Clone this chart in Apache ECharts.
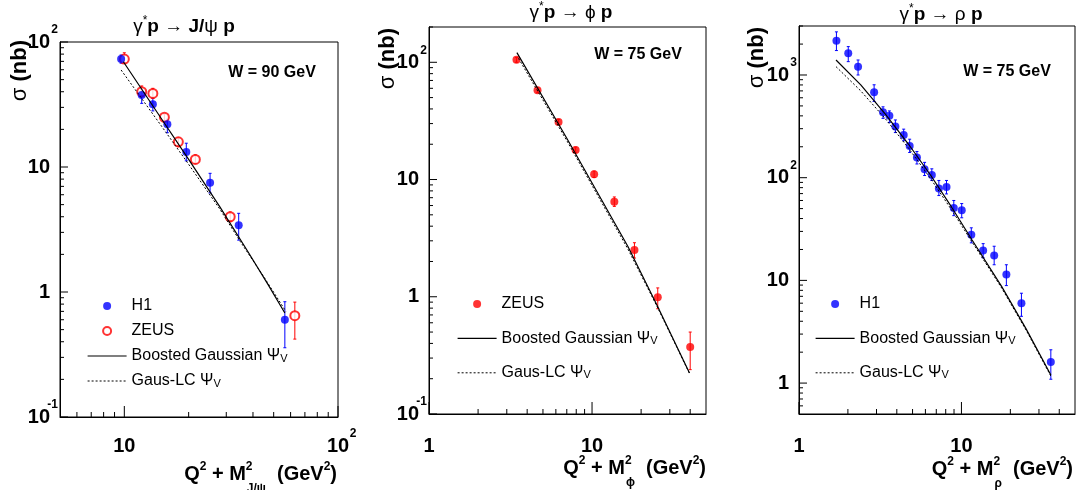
<!DOCTYPE html>
<html><head><meta charset="utf-8">
<script src="https://cdn.jsdelivr.net/npm/echarts@6.0.0/dist/echarts.min.js"></script>
<style>html,body{margin:0;padding:0;background:#fff}#c{width:1079px;height:490px}</style>
</head><body><div id="c"></div>
<script>
// ---------------- data ----------------
// Panel 1: gamma* p -> J/psi p, W = 90 GeV
const jpsiH1X  = [9.66, 12.06, 13.6, 15.9, 19.5, 25.2, 34.3, 56.4];
const jpsiH1Y  = [73, 37.7, 31.7, 22.0, 13.2, 7.49, 3.42, 0.60];
const jpsiH1Lo = [67.7, 32.3, 28.1, 18.8, 11.2, 6.2, 2.6, 0.358];
const jpsiH1Hi = [78.7, 41.9, 35.5, 24.1, 15.5, 8.9, 4.26, 0.836];
const jpsiZeusX  = [10.0, 12.06, 13.6, 15.4, 17.9, 21.5, 31.3, 62.8];
const jpsiZeusY  = [73, 40, 38.8, 25.0, 15.9, 11.5, 4.0, 0.646];
const jpsiZeusLo = [67.7, 36.5, 35.5, 23, 14.5, 10.7, 3.65, 0.42];
const jpsiZeusHi = [82, 44.5, 42.6, 26.5, 17.1, 12.5, 4.37, 0.83];
const jpsiBGX = [9.9, 15, 20, 28, 37.9, 47, 56.4];
const jpsiBGY = [69.5, 24.0, 11.5, 4.8, 2.1, 1.15, 0.68];
const jpsiGLX = [9.66, 15, 20, 28, 34.8, 45, 57];
const jpsiGLY = [59.7, 21.0, 10.5, 4.6, 2.55, 1.32, 0.70];

// Panel 2: gamma* p -> phi p, W = 75 GeV
const phiZeusX  = [3.44, 4.63, 6.23, 7.93, 10.3, 13.7, 18.2, 25.3, 40.0];
const phiZeusY  = [105, 57.8, 31.0, 17.9, 11.1, 6.47, 2.51, 0.99, 0.373];
const phiZeusLo = [100, 55, 29.5, 16.9, 10.4, 5.9, 2.14, 0.79, 0.239];
const phiZeusHi = [110, 60.7, 32.6, 18.9, 11.8, 7.1, 2.89, 1.19, 0.50];
const phiBGX = [3.46, 7, 16.6, 25, 39.6];
const phiBGY = [121, 22.5, 2.68, 0.85, 0.224];
const phiGLX = [3.54, 7, 16.6, 25, 39.6];
const phiGLY = [108, 21.5, 2.55, 0.83, 0.222];

// Panel 3: gamma* p -> rho p, W = 75 GeV
const rhoH1X  = [1.70, 2.01, 2.31, 2.90, 3.29, 3.60, 3.92, 4.41, 4.80, 5.32, 5.93, 6.57, 7.26, 8.09, 8.97, 10.04, 11.5, 13.6, 15.9, 18.9, 23.4, 35.5];
const rhoH1Y  = [2150, 1630, 1205, 678, 433, 401, 316, 261, 204, 157, 121, 106, 78.7, 81, 50.6, 48.1, 27.8, 19.6, 17.5, 11.4, 6.0, 1.60];
const rhoH1Lo = [1730, 1349, 1000, 553, 378, 345, 275, 229, 176, 136, 105, 94, 67, 69.5, 42.7, 40.7, 23.2, 16.6, 14.2, 8.9, 4.47, 1.09];
const rhoH1Hi = [2630, 1890, 1400, 803, 490, 447, 365, 297, 237, 180, 141, 122, 94, 94, 60, 56, 32.5, 22.8, 21.5, 14.2, 7.5, 2.11];
const rhoBGX = [1.69, 2.4, 3.40, 4.7, 6.4, 8.7, 11.6, 17.7, 25, 35.5];
const rhoBGY = [1400, 800, 416, 214, 108, 51.6, 24.9, 8.7, 3.37, 1.2];
const rhoGLX = [1.69, 2.4, 3.40, 4.7, 6.4, 8.7, 11.6, 17.7, 25, 35.5];
const rhoGLY = [1206, 700, 375, 196, 100, 48.5, 23.8, 8.4, 3.28, 1.17];

// ---------------- axis ticks / labels ----------------
const jpsiXMajor = [10, 100];           const jpsiXLabels = ['10', '10^2'];
const jpsiXMinor = [6, 7, 8, 9, 20, 30, 40, 50, 60, 70, 80, 90];
const jpsiYMajor = [0.1, 1, 10, 100];   const jpsiYLabels = ['10^-1', '1', '10', '10^2'];
const jpsiYMinor = [0.2, 0.3, 0.4, 0.5, 0.6, 0.7, 0.8, 0.9, 2, 3, 4, 5, 6, 7, 8, 9, 20, 30, 40, 50, 60, 70, 80, 90];
const phiXMajor = [1, 10];              const phiXLabels = ['1', '10'];
const phiXMinor = [2, 3, 4, 5, 6, 7, 8, 9, 20, 30, 40];
const phiYMajor = [0.1, 1, 10, 100];    const phiYLabels = ['10^-1', '1', '10', '10^2'];
const phiYMinor = [0.2, 0.3, 0.4, 0.5, 0.6, 0.7, 0.8, 0.9, 2, 3, 4, 5, 6, 7, 8, 9, 20, 30, 40, 50, 60, 70, 80, 90, 200];
const rhoXMajor = [1, 10];              const rhoXLabels = ['1', '10'];
const rhoXMinor = [2, 3, 4, 5, 6, 7, 8, 9, 20, 30, 40];
const rhoYMajor = [1, 10, 100, 1000];   const rhoYLabels = ['1', '10', '10^2', '10^3'];
const rhoYMinor = [0.6, 0.7, 0.8, 0.9, 2, 3, 4, 5, 6, 7, 8, 9, 20, 30, 40, 50, 60, 70, 80, 90, 200, 300, 400, 500, 600, 700, 800, 900, 2000, 3000];

// ---------------- helpers ----------------
const FONT = '"Liberation Sans", Arial, Helvetica, sans-serif';
const BLUE = '#0000ff', RED = '#ff0000';
const zip = (xs, ys) => xs.map((x, i) => [x, ys[i]]);

function findLabel(v, vals, labels) {
  const i = vals.findIndex(t => Math.abs(Math.log10(v) - Math.log10(t)) < 1e-6);
  return i < 0 ? null : labels[i].split('^');
}
function fmtY(vals, labels) {
  return v => { const p = findLabel(v, vals, labels); if (!p) return ''; return '{b|' + p[0] + '}{sup|' + (p[1] || ' ') + '}'; };
}
function fmtX(vals, labels) {
  return v => { const p = findLabel(v, vals, labels); if (!p) return ''; return '{pad| }{b|' + p[0] + '}{sup|' + (p[1] || ' ') + '}'; };
}
const RICH_LAB = {
  b:   {fontSize: 20, fontWeight: 'bold', fontFamily: FONT, color: '#000'},
  sup: {fontSize: 12, fontWeight: 'bold', fontFamily: FONT, color: '#000', width: 8, padding: [0, 0, 24, 0]},
  pad: {fontSize: 12, width: 8}
};

function xAxis(gi, min, max, major, labels, margin) {
  return {type: 'log', logBase: 10, gridIndex: gi, min, max, position: 'bottom',
    axisLine: {show: true, lineStyle: {color: '#000', width: 1}},
    axisTick: {show: false},
    axisLabel: {show: true, customValues: major, margin, formatter: fmtX(major, labels), rich: RICH_LAB},
    splitLine: {show: false}};
}
function yAxis(gi, min, max, major, labels) {
  return {type: 'log', logBase: 10, gridIndex: gi, min, max, position: 'left',
    axisLine: {show: true, lineStyle: {color: '#000', width: 1}},
    axisTick: {show: false},
    axisLabel: {show: true, customValues: major, margin: 2, formatter: fmtY(major, labels), rich: RICH_LAB},
    splitLine: {show: false}};
}

// inward-pointing ticks, placed through the axes' own scales
function tickSeries(gi, xMin, yMin, xMajor, xMinor, yMajor, yMinor, xMajLen) {
  const ticks = [];
  xMajor.forEach(v => ticks.push({x: v, y: yMin, len: xMajLen, k: 0}));
  xMinor.forEach(v => ticks.push({x: v, y: yMin, len: 5, k: 0}));
  yMajor.forEach(v => ticks.push({x: xMin, y: v, len: 8, k: 1}));
  yMinor.forEach(v => ticks.push({x: xMin, y: v, len: 4, k: 1}));
  return {type: 'custom', xAxisIndex: gi, yAxisIndex: gi, silent: true, clip: false, z: 5,
    data: ticks.map(t => [t.x, t.y]),
    renderItem: (params, api) => {
      const t = ticks[params.dataIndex];
      const pt = api.coord([t.x, t.y]);
      const shape = t.k === 0
        ? {x1: pt[0], y1: pt[1], x2: pt[0], y2: pt[1] - t.len}
        : {x1: pt[0], y1: pt[1], x2: pt[0] + t.len, y2: pt[1]};
      return {type: 'group', children: [{type: 'line', shape, style: {stroke: '#000', lineWidth: 1}}]};
    }};
}

function errSeries(gi, xs, lo, hi, color, cap) {
  return {
    type: 'custom', xAxisIndex: gi, yAxisIndex: gi, z: 2, silent: true, clip: false,
    data: xs.map((x, i) => [x, lo[i], hi[i]]), encode: {x: 0, y: [1, 2]},
    renderItem: (params, api) => {
      const a = api.coord([api.value(0), api.value(2)]);
      const b = api.coord([api.value(0), api.value(1)]);
      const st = {stroke: color, lineWidth: 1};
      return {type: 'group', children: [
        {type: 'line', shape: {x1: a[0], y1: a[1], x2: b[0], y2: b[1]}, style: st},
        {type: 'line', shape: {x1: a[0] - cap, y1: a[1], x2: a[0] + cap, y2: a[1]}, style: st},
        {type: 'line', shape: {x1: b[0] - cap, y1: b[1], x2: b[0] + cap, y2: b[1]}, style: st}
      ]};
    }
  };
}
function dots(gi, name, xs, ys, color, empty) {
  return {type: 'scatter', name, xAxisIndex: gi, yAxisIndex: gi, z: 3,
    data: zip(xs, ys), symbol: empty ? 'emptyCircle' : 'circle', symbolSize: empty ? 9 : 8,
    itemStyle: empty ? {color: color, borderColor: color, borderWidth: 1.4} : {color: color}};
}
function curve(gi, name, xs, ys, dotted) {
  return {type: 'line', name, xAxisIndex: gi, yAxisIndex: gi, z: 4,
    data: zip(xs, ys), symbol: 'none', smooth: false,
    itemStyle: {color: '#000'},
    lineStyle: {color: '#000', width: dotted ? 1 : 1.2, type: dotted ? [2, 2] : 'solid'}};
}

const legendNames = {
  p1H1: 'H1', p1ZEUS: 'ZEUS', p1BG: 'Boosted Gaussian \u03A8{sub|V}', p1GL: 'Gaus-LC \u03A8{sub|V}',
  p2ZEUS: 'ZEUS', p2BG: 'Boosted Gaussian \u03A8{sub|V}', p2GL: 'Gaus-LC \u03A8{sub|V}',
  p3H1: 'H1', p3BG: 'Boosted Gaussian \u03A8{sub|V}', p3GL: 'Gaus-LC \u03A8{sub|V}'
};
function legend(names, left, top, gap) {
  return {data: names.map(n => /BG|GL/.test(n)
      ? {name: n, itemStyle: {color: 'rgba(0,0,0,0)', borderColor: 'rgba(0,0,0,0)', borderWidth: 0},
         lineStyle: {color: '#000', width: /GL/.test(n) ? 1 : 1.2, type: /GL/.test(n) ? [2, 2] : 'solid'}}
      : {name: n}),
    orient: 'vertical', left, top, padding: 0, itemGap: gap,
    itemWidth: 39, itemHeight: 8, selectedMode: false,
    formatter: n => legendNames[n],
    textStyle: {fontFamily: FONT, fontSize: 16, color: '#000', lineHeight: 20,
      rich: {sub: {fontFamily: FONT, fontSize: 11, color: '#000', lineHeight: 15, padding: [5, 0, 0, 0]}}}};
}

const TITLE_RICH = {
  g: {fontFamily: FONT, fontSize: 19, fill: '#000'},
  b: {fontFamily: FONT, fontSize: 19, fontWeight: 'bold', fill: '#000'},
  s: {fontFamily: FONT, fontSize: 12, fill: '#000', padding: [0, 0, 12, 0]}
};
function titleText(x, y, text) {
  return {type: 'text', x, y, silent: true,
    style: {text, align: 'center', verticalAlign: 'middle', fontFamily: FONT, fontSize: 19, fontWeight: 'bold', fill: '#000', rich: TITLE_RICH}};
}
function wText(x, y, text) {
  return {type: 'text', x, y, silent: true,
    style: {text, align: 'center', verticalAlign: 'middle', fontFamily: FONT, fontSize: 16, fontWeight: 'bold', fill: '#000'}};
}
function sigmaText(x, y) {
  return {type: 'text', x, y, rotation: Math.PI / 2, silent: true,
    style: {text: '{s|\u03C3} {b|(nb)}', align: 'right', verticalAlign: 'middle', fontFamily: FONT, fontSize: 22, fill: '#000',
      rich: {s: {fontFamily: FONT, fontSize: 22, fill: '#000'}, b: {fontFamily: FONT, fontSize: 22, fontWeight: 'bold', fill: '#000'}}}};
}
const XT_RICH = {
  b: {fontFamily: FONT, fontSize: 20, fontWeight: 'bold', fill: '#000', align: 'left'},
  sup: {fontFamily: FONT, fontSize: 12, fontWeight: 'bold', fill: '#000', align: 'left', padding: [0, 0, 14, 0]},
  supz: {fontFamily: FONT, fontSize: 12, fontWeight: 'bold', fill: '#000', align: 'left', padding: [0, 0, 14, 0], width: 1},
  sub: {fontFamily: FONT, fontSize: 12, fontWeight: 'bold', fill: '#000', align: 'left', padding: [30, 0, 0, 0]}
};
function xTitle(x, y, subText) {
  return {type: 'text', x, y, silent: true,
    style: {text: '{b|Q}{sup|2}{b| + M}{supz|2}{sub|' + subText + '}{b|  (GeV}{sup|2}{b|)}',
      align: 'right', verticalAlign: 'middle', fontFamily: FONT, fontSize: 20, fontWeight: 'bold', fill: '#000', rich: XT_RICH}};
}

const chart = echarts.init(document.getElementById('c'), null, {renderer: 'canvas'});
chart.setOption({
  animation: false,
  backgroundColor: '#fff',
  textStyle: {fontFamily: FONT},
  grid: [
    {left: 60, top: 42, width: 278, height: 375, show: true, borderColor: '#000', borderWidth: 1, backgroundColor: 'transparent'},
    {left: 429, top: 27, width: 277, height: 387, show: true, borderColor: '#000', borderWidth: 1, backgroundColor: 'transparent'},
    {left: 799, top: 26, width: 276, height: 388, show: true, borderColor: '#000', borderWidth: 1, backgroundColor: 'transparent'}
  ],
  xAxis: [
    xAxis(0, 5, 100, jpsiXMajor, jpsiXLabels, 11),
    xAxis(1, 1, 50, phiXMajor, phiXLabels, 14),
    xAxis(2, 1, 50, rhoXMajor, rhoXLabels, 14)
  ],
  yAxis: [
    yAxis(0, 0.1, 100, jpsiYMajor, jpsiYLabels),
    yAxis(1, 0.1, 200, phiYMajor, phiYLabels),
    yAxis(2, 0.5, 3000, rhoYMajor, rhoYLabels)
  ],
  legend: [
    legend(['p1H1', 'p1ZEUS', 'p1BG', 'p1GL'], 87, 296, 5),
    legend(['p2ZEUS', 'p2BG', 'p2GL'], 457, 294, 14.4),
    legend(['p3H1', 'p3BG', 'p3GL'], 815, 294, 14.4)
  ],
  series: [
    tickSeries(0, 5, 0.1, jpsiXMajor, jpsiXMinor, jpsiYMajor, jpsiYMinor, 11),
    tickSeries(1, 1, 0.1, phiXMajor, phiXMinor, phiYMajor, phiYMinor, 12),
    tickSeries(2, 1, 0.5, rhoXMajor, rhoXMinor, rhoYMajor, rhoYMinor, 12),

    errSeries(0, jpsiH1X, jpsiH1Lo, jpsiH1Hi, BLUE, 1.5),
    errSeries(0, jpsiZeusX, jpsiZeusLo, jpsiZeusHi, RED, 1.5),
    curve(0, 'p1BG', jpsiBGX, jpsiBGY, false),
    curve(0, 'p1GL', jpsiGLX, jpsiGLY, true),
    dots(0, 'p1ZEUS', jpsiZeusX, jpsiZeusY, RED, true),
    dots(0, 'p1H1', jpsiH1X, jpsiH1Y, BLUE, false),

    errSeries(1, phiZeusX, phiZeusLo, phiZeusHi, RED, 1.5),
    curve(1, 'p2BG', phiBGX, phiBGY, false),
    curve(1, 'p2GL', phiGLX, phiGLY, true),
    dots(1, 'p2ZEUS', phiZeusX, phiZeusY, RED, false),

    errSeries(2, rhoH1X, rhoH1Lo, rhoH1Hi, BLUE, 1.5),
    curve(2, 'p3BG', rhoBGX, rhoBGY, false),
    curve(2, 'p3GL', rhoGLX, rhoGLY, true),
    dots(2, 'p3H1', rhoH1X, rhoH1Y, BLUE, false)
  ],
  graphic: [
    titleText(184, 27, '{g|\u03B3}{s|*}{b|p} {g|\u2192} {b|J/}{g|\u03C8} {b|p}'),
    titleText(571, 13, '{g|\u03B3}{s|*}{b|p} {g|\u2192} {g|\u03D5} {b|p}'),
    titleText(941, 15, '{g|\u03B3}{s|*}{b|p} {g|\u2192} {g|\u03C1} {b|p}'),
    wText(272, 73, 'W = 90 GeV'),
    wText(638, 55, 'W = 75 GeV'),
    wText(1007, 72, 'W = 75 GeV'),
    sigmaText(20, 40),
    sigmaText(388, 28),
    sigmaText(757, 27),
    xTitle(337, 474, 'J/\u03C8'),
    xTitle(706, 468, '\u03D5'),
    xTitle(1073, 469, '\u03C1')
  ]
});
</script>
</body></html>
